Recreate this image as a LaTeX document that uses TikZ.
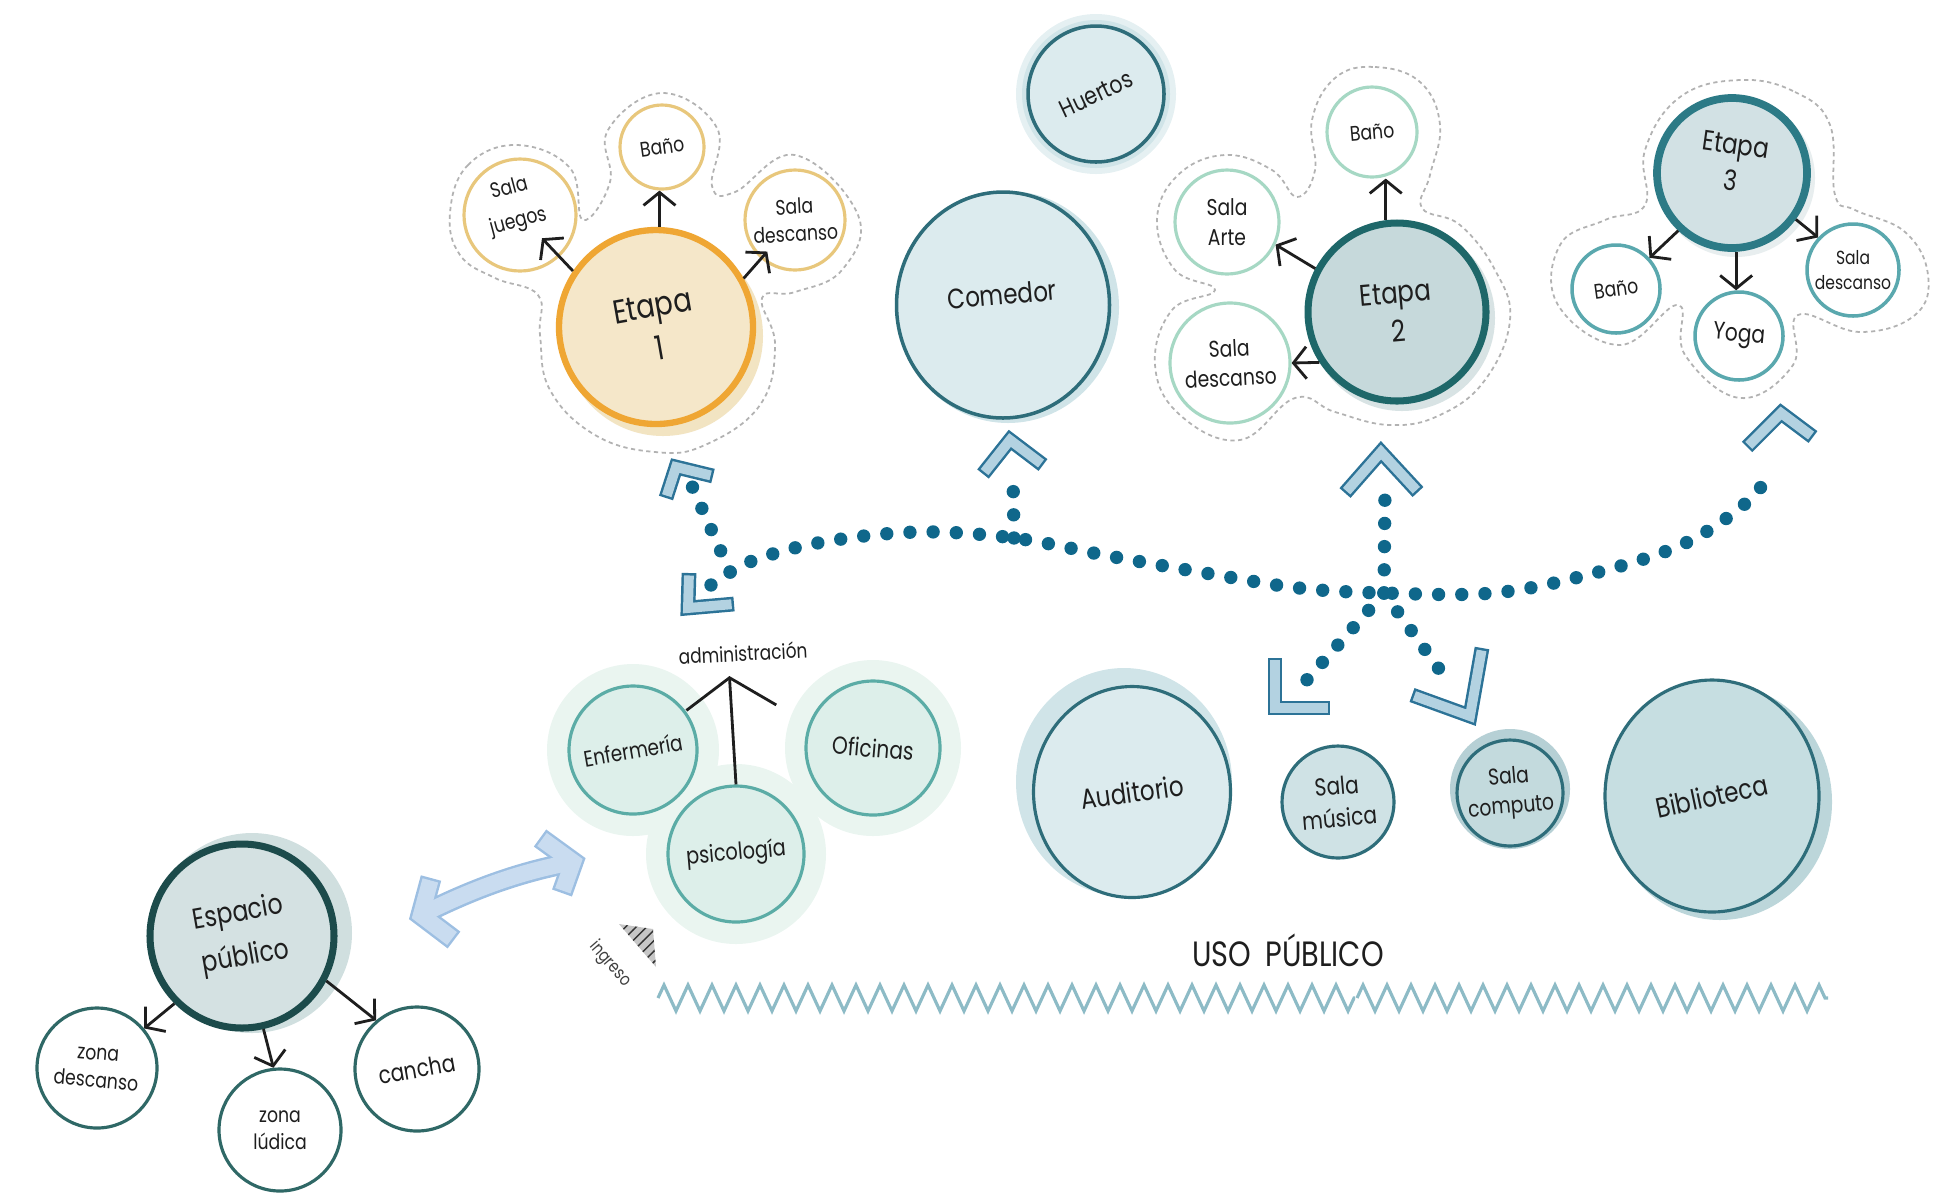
\documentclass[tikz,border=0pt]{standalone}
\usepackage{fontspec}
\setmainfont{Poppins}[FakeStretch=0.82]
\usetikzlibrary{arrows.meta,backgrounds,decorations.pathmorphing,patterns,shapes.geometric}

\definecolor{ink}{HTML}{1E1E1E}
\definecolor{dotblue}{HTML}{0F678B}
\definecolor{chevdark}{HTML}{2C7397}
\definecolor{chevlight}{HTML}{B3D2E1}
\definecolor{dbldark}{HTML}{9DBFE2}
\definecolor{dbllight}{HTML}{C9DCF0}
\definecolor{tealline}{HTML}{2E6D7A}
\definecolor{paleblue}{HTML}{DCEBEE}
\definecolor{paleshade}{HTML}{D0E4E8}
\definecolor{eorange}{HTML}{EFA633}
\definecolor{ebeige}{HTML}{F5E7C9}
\definecolor{ebeigesh}{HTML}{F2E4C2}
\definecolor{eyellow}{HTML}{E8C77C}
\definecolor{etealdk}{HTML}{1E6769}
\definecolor{etealfill}{HTML}{C6D9DB}
\definecolor{etealsh}{HTML}{D8E3E4}
\definecolor{emint}{HTML}{A6D8C4}
\definecolor{ethree}{HTML}{2C7A86}
\definecolor{ethreefill}{HTML}{D2E1E4}
\definecolor{ethreesub}{HTML}{5AA8AE}
\definecolor{admline}{HTML}{5BACA6}
\definecolor{admfill}{HTML}{DDEFEA}
\definecolor{admglow}{HTML}{EAF5F0}
\definecolor{musfill}{HTML}{CFE2E5}
\definecolor{compfill}{HTML}{C3DADD}
\definecolor{compsh}{HTML}{B6D0D5}
\definecolor{bibfill}{HTML}{C6DEE1}
\definecolor{bibsh}{HTML}{BCD6DA}
\definecolor{epline}{HTML}{1C4B4B}
\definecolor{epfill}{HTML}{D4E1E2}
\definecolor{epsh}{HTML}{D0DFDF}
\definecolor{epsub}{HTML}{2F6866}
\definecolor{zigcol}{HTML}{8DBBC6}

% font size with a looser line spacing
\newcommand\setfs[1]{\fontsize{#1}{\fpeval{1.3*#1}}\selectfont}

% chevron head drawn as an outlined bar
\newcommand\chevron[3]{%
  \draw[chevout] #1 -- #2 -- #3;
  \draw[chevin] #1 -- #2 -- #3;}

\begin{document}
\begin{tikzpicture}[x=1cm,y=-1cm,
  bub/.style={circle,inner sep=0pt,minimum size=#1},
  oval/.style 2 args={ellipse,inner sep=0pt,minimum width=#1,minimum height=#2},
  tag/.style={align=center,text=ink,inner sep=0pt},
  fs/.style={font=\setfs{#1}},
  arr/.style={draw=ink,line width=0.8pt,-{Straight Barb[length=1.3mm,width=3.2mm]}},
  dots/.style={draw=dotblue,line width=3.8pt,line cap=round,dash pattern=on 0pt off 6.6pt},
  chevout/.style={draw=chevdark,line width=4.2pt,line join=miter},
  chevin/.style={draw=chevlight,line width=2.8pt,line join=miter,shorten <=0.7pt,shorten >=0.7pt},
  dblout/.style={draw=dbldark,line width=6pt,line join=miter},
  dblin/.style={draw=dbllight,line width=4.6pt,line join=miter,shorten <=0.7pt,shorten >=0.7pt},
  cluster/.style={draw=gray!60,fill=white,line width=0.5pt,dash pattern=on 1.2pt off 1pt},
  zig/.style={draw=zigcol,line width=0.9pt,decorate,decoration={zigzag,segment length=0.24cm,amplitude=0.13cm}},
  ]
  \useasboundingbox (0,0) rectangle (19.46,11.94);

  % Etapa 1
  \node[bub=1.94cm,draw=eorange,fill=ebeige,line width=1.8pt,label={[tag,fs=9.5,rotate=10]center:Etapa\\1}] (e1) at (6.56,3.27) {};
  \node[bub=1.12cm,draw=eyellow,fill=white,line width=0.9pt,label={[tag,fs=6,rotate=15,yshift=3pt,xshift=-1pt]center:Sala\\[2pt]juegos}] (e1jue) at (5.20,2.15) {};
  \node[bub=0.84cm,draw=eyellow,fill=white,line width=0.9pt,label={[tag,fs=6,rotate=8]center:Baño}] (e1ban) at (6.62,1.47) {};
  \node[bub=1.00cm,draw=eyellow,fill=white,line width=0.9pt,label={[tag,fs=6,rotate=3]center:Sala\\descanso}] (e1des) at (7.95,2.20) {};
  \draw[arr,shorten >=3.2mm] (e1.146) -- (e1jue.center);
  \draw[arr] (e1.88) -- (e1.88 |- e1ban.south);
  \draw[arr,shorten >=4.2mm] (e1.29) -- (e1des.center);

  % Comedor and Huertos
  \node[oval={2.13cm}{2.26cm},draw=tealline,fill=paleblue,line width=1pt,label={[tag,fs=8,rotate=5,yshift=3pt]center:Comedor}] (comedor) at (10.03,3.05) {};
  \node[bub=1.36cm,draw=tealline,fill=paleblue,line width=1pt,label={[tag,fs=7,rotate=25]center:Huertos}] (huertos) at (10.96,0.94) {};

  % Etapa 2
  \node[bub=1.78cm,draw=etealdk,fill=etealfill,line width=2pt,label={[tag,fs=8.5,rotate=5]center:Etapa\\2}] (e2) at (13.97,3.12) {};
  \node[bub=0.90cm,draw=emint,fill=white,line width=0.9pt,label={[tag,fs=6,rotate=5]center:Baño}] (e2ban) at (13.72,1.32) {};
  \node[bub=1.04cm,draw=emint,fill=white,line width=0.9pt,label={[tag,fs=6.5]center:Sala\\Arte}] (e2arte) at (12.27,2.22) {};
  \node[bub=1.20cm,draw=emint,fill=white,line width=0.9pt,label={[tag,fs=6.5,rotate=3]center:Sala\\descanso}] (e2des) at (12.30,3.63) {};
  \draw[arr] (e2.97) -- (e2.97 |- e2ban.south);
  \draw[arr] (e2.152) -- (e2arte.-25);
  \draw[arr] (e2.213) -- (e2des.0);

  % Etapa 3
  \node[bub=1.50cm,draw=ethree,fill=ethreefill,line width=2.2pt,label={[tag,fs=8,rotate=-8,yshift=3pt]center:Etapa\\3}] (e3) at (17.32,1.73) {};
  \node[bub=0.88cm,draw=ethreesub,fill=white,line width=1pt,label={[tag,fs=6,rotate=8]center:Baño}] (e3ban) at (16.16,2.89) {};
  \node[bub=0.88cm,draw=ethreesub,fill=white,line width=1pt,label={[tag,fs=7,rotate=-5]center:Yoga}] (e3yoga) at (17.39,3.36) {};
  \node[bub=0.92cm,draw=ethreesub,fill=white,line width=1pt,label={[tag,fs=5.4]center:Sala\\descanso}] (e3des) at (18.53,2.70) {};
  \draw[arr] (e3.227) -- (e3ban.43);
  \draw[arr] (e3.-87) -- (e3.-87 |- e3yoga.north);
  \draw[arr] (e3.-36) -- (e3des.137);

  % Administracion
  \node[bub=1.28cm,draw=admline,fill=admfill,line width=0.9pt,label={[tag,fs=6.4,rotate=10]center:Enfermería}] (enf) at (6.33,7.50) {};
  \node[bub=1.36cm,draw=admline,fill=admfill,line width=0.9pt,label={[tag,fs=6.7,rotate=5]center:psicología}] (psi) at (7.36,8.54) {};
  \node[bub=1.34cm,draw=admline,fill=admfill,line width=0.9pt,label={[tag,fs=7,rotate=-5]center:Oficinas}] (ofi) at (8.73,7.48) {};
  \node[tag,fs=5.9,rotate=3] (adm) at (7.43,6.53) {administración};
  \draw[draw=ink,line width=0.8pt,-{Straight Barb[length=3mm,width=9mm]}] (psi.north) -- ([xshift=-4pt,yshift=-4pt]adm.south);

  % Uso publico
  \node[oval={1.97cm}{2.11cm},draw=tealline,fill=paleblue,line width=0.9pt,label={[tag,fs=8,rotate=8]center:Auditorio}] (aud) at (11.32,7.92) {};
  \node[bub=1.12cm,draw=tealline,fill=musfill,line width=0.9pt,label={[tag,fs=7,rotate=5]center:Sala\\música}] (mus) at (13.38,8.02) {};
  \node[bub=1.06cm,draw=tealline,fill=compfill,line width=0.9pt,label={[tag,fs=6.5,rotate=5]center:Sala\\computo}] (comp) at (15.10,7.93) {};
  \node[oval={2.14cm}{2.32cm},draw=tealline,fill=bibfill,line width=0.9pt,label={[tag,fs=8,rotate=12]center:Biblioteca}] (bib) at (17.12,7.96) {};
  \node[tag,fs=10] (uso) at (12.88,9.50) {USO\hspace{4pt}PÚBLICO};
  \draw[zig] (6.58,9.98) -- (13.55,9.98);
  \draw[zig] (13.57,9.98) -- (18.28,9.98);

  % Espacio publico
  \node[bub=1.84cm,draw=epline,fill=epfill,line width=2pt,label={[tag,fs=8.2,rotate=10]center:Espacio\\[2pt]público}] (ep) at (2.42,9.36) {};
  \node[bub=1.20cm,draw=epsub,fill=white,line width=0.9pt,label={[tag,fs=6,rotate=-5]center:zona\\descanso}] (zdes) at (0.97,10.68) {};
  \node[bub=1.22cm,draw=epsub,fill=white,line width=0.9pt,label={[tag,fs=6]center:zona\\lúdica}] (zlud) at (2.80,11.30) {};
  \node[bub=1.24cm,draw=epsub,fill=white,line width=0.9pt,label={[tag,fs=7,rotate=10]center:cancha}] (cancha) at (4.17,10.69) {};
  \draw[arr] (ep.225) -- (zdes.40);
  \draw[arr] (ep.-77) -- (zlud.96);
  \draw[arr] (ep.-28) -- (cancha.130);

  % Ingreso
  \fill[gray!45] (6.19,9.24) -- (6.53,9.29) -- (6.56,9.67) -- cycle;
  \fill[pattern=north east lines,pattern color=black!80] (6.19,9.24) -- (6.53,9.29) -- (6.56,9.67) -- cycle;
  \node[tag,fs=5,rotate=-49,text=black!75] (ing) at (6.10,9.64) {ingreso};

  % Double arrow between espacio publico and administracion
  \coordinate (dblL) at (4.21,9.15);
  \coordinate (dblR) at (5.73,8.62);
  \draw[dblout] (dblL) .. controls (4.75,8.88) and (5.20,8.72) .. (dblR);
  \draw[dblout] (4.31,8.78) -- (dblL) -- (4.54,9.40);
  \draw[dblout] (5.40,8.38) -- (dblR) -- (5.62,8.93);
  \draw[dblin] (dblL) .. controls (4.75,8.88) and (5.20,8.72) .. (dblR);
  \draw[dblin] (4.31,8.78) -- (dblL) -- (4.54,9.40);
  \draw[dblin] (5.40,8.38) -- (dblR) -- (5.62,8.93);

  % Dotted circulation
  \coordinate (endL) at (7.11,5.85);
  \coordinate (j1) at (7.30,5.72);
  \coordinate (t1) at (6.92,4.86);
  \coordinate (jC) at (10.14,5.38);
  \coordinate (tC) at (10.13,4.75);
  \coordinate (jR) at (13.84,5.93);
  \coordinate (tR2) at (13.85,4.87);
  \coordinate (bL) at (13.05,6.82);
  \coordinate (bR) at (14.47,6.80);
  \coordinate (tR) at (17.73,4.72);
  \draw[dots] plot[smooth,tension=0.6] coordinates {(endL) (7.52,5.61) (8.23,5.42) (9.18,5.32) (jC) (11.09,5.56) (12.05,5.73) (12.99,5.88) (jR) (14.93,5.93) (15.87,5.75) (16.79,5.46) (17.40,5.08) (tR)};
  \draw[dots] (j1) -- (t1);
  \draw[dots] (jC) -- (tC);
  \draw[dots] (jR) -- (tR2);
  \draw[dots] (jR) -- (bL);
  \draw[dots] (jR) -- (bR);

  \chevron{(6.66,4.98)}{(6.76,4.67)}{(7.13,4.76)}
  \chevron{(6.89,5.73)}{(6.88,6.08)}{(7.34,6.04)}
  \chevron{(9.83,4.74)}{(10.10,4.40)}{(10.43,4.65)}
  \chevron{(13.45,4.93)}{(13.81,4.52)}{(14.18,4.92)}
  \chevron{(12.75,6.58)}{(12.75,7.08)}{(13.30,7.08)}
  \chevron{(14.82,6.48)}{(14.70,7.16)}{(14.12,6.95)}
  \chevron{(17.47,4.47)}{(17.81,4.13)}{(18.13,4.37)}

  \begin{pgfonlayer}{background}
    % dotted outlines of the stage groups
    \draw[cluster] plot[smooth cycle,tension=0.7] coordinates {(4.50,2.13) (4.68,1.65) (5.17,1.45) (5.70,1.68) (5.83,2.20) (6.10,1.82) (6.08,1.30) (6.62,0.93) (7.17,1.28) (7.12,1.86) (7.35,1.92) (7.95,1.55) (8.58,2.15) (8.42,2.70) (7.95,2.92) (7.62,2.98) (7.75,3.45) (7.60,4.05) (7.05,4.45) (6.55,4.52) (5.95,4.35) (5.50,3.90) (5.40,3.35) (5.38,2.95) (4.95,2.78) (4.60,2.55)};
    \draw[cluster] plot[smooth cycle,tension=0.7] coordinates {(13.35,0.78) (13.75,0.67) (14.20,0.82) (14.40,1.25) (14.30,1.75) (14.22,2.08) (14.60,2.25) (14.95,2.70) (15.10,3.20) (14.85,3.80) (14.40,4.15) (13.90,4.25) (13.35,4.12) (12.95,3.98) (12.40,4.40) (11.80,4.15) (11.55,3.65) (11.72,3.10) (12.15,2.90) (11.75,2.70) (11.57,2.20) (11.78,1.75) (12.25,1.55) (12.72,1.70) (12.97,1.97) (13.15,1.70) (13.12,1.20)};
    \draw[cluster] plot[smooth cycle,tension=0.7] coordinates {(17.40,0.80) (17.95,0.92) (18.30,1.25) (18.35,1.95) (18.55,2.10) (19.05,2.32) (19.28,2.75) (19.15,3.15) (18.60,3.32) (17.98,3.15) (17.93,3.65) (17.40,3.98) (16.85,3.55) (16.78,3.05) (16.20,3.45) (15.58,3.05) (15.60,2.45) (16.05,2.20) (16.45,2.05) (16.45,1.50) (16.80,0.97)};

    % shadows and halos
    \fill[paleshade!55] (huertos) circle (0.80);
    \fill[paleshade] (huertos) circle (0.74);
    \fill[paleshade] ([shift={(0.05,0.02)}]comedor.center) ellipse (1.11 and 1.16);
    \fill[ebeigesh] ([shift={(0.07,0.09)}]e1.center) circle (1.0);
    \fill[etealsh] ([shift={(0.05,0.06)}]e2.center) circle (0.93);
    \fill[etealsh!60] ([shift={(0.04,0.05)}]e3.center) circle (0.79);
    \fill[paleshade] ([shift={(-0.08,-0.10)}]aud.center) ellipse (1.08 and 1.14);
    \fill[compsh] ([shift={(0.0,-0.04)}]comp.center) circle (0.60);
    \fill[bibsh] ([shift={(0.08,0.06)}]bib.center) ellipse (1.12 and 1.18);
    \fill[epsh] ([shift={(0.10,-0.03)}]ep.center) circle (1.0);
    \foreach \n/\r in {enf/0.86,psi/0.90,ofi/0.88}
      \fill[admglow] (\n) circle (\r);
  \end{pgfonlayer}
\end{tikzpicture}
\end{document}
